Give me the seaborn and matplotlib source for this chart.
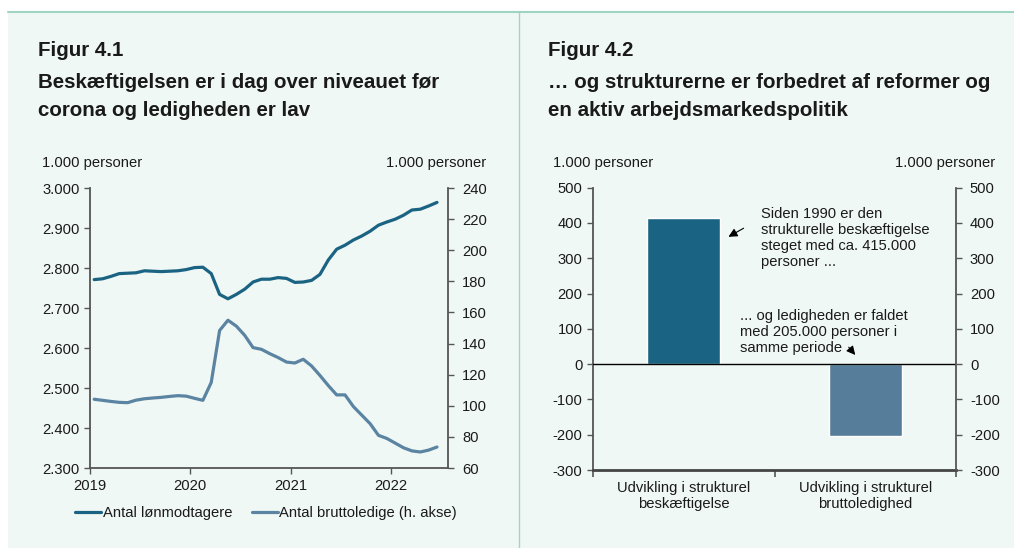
import numpy as np
import pandas as pd
import matplotlib
matplotlib.use("Agg")
import matplotlib.pyplot as plt
import seaborn as sns
from matplotlib.ticker import FuncFormatter, FixedLocator
from matplotlib.patches import Rectangle
from matplotlib.lines import Line2D

# ---------------- data ----------------
months = pd.period_range("2019-01", "2022-06", freq="M")
employment = [2771, 2773, 2779, 2786, 2787, 2788, 2793, 2792, 2791, 2792, 2793, 2796,
              2801, 2802, 2786, 2734, 2723, 2734, 2747, 2765, 2772, 2772, 2776, 2774,
              2764, 2765, 2769, 2784, 2820, 2847, 2857, 2870, 2880, 2892, 2907, 2915,
              2922, 2932, 2945, 2947, 2955, 2964]
unemployment = [104.2, 103.5, 102.8, 102.2, 102.0, 103.6, 104.5, 105.0, 105.4, 106.0, 106.5, 106.2,
                104.8, 103.5, 115.0, 148.4, 155.0, 151.2, 145.3, 137.4, 136.3, 133.5, 131.0, 128.1,
                127.5, 129.9, 125.6, 119.5, 113.0, 107.0, 107.0, 99.5, 94.0, 88.5, 81.0, 79.0,
                76.0, 73.0, 71.0, 70.3, 71.5, 73.5]
year_ticks = [2019, 2020, 2021, 2022]
left_ticks = [2300, 2400, 2500, 2600, 2700, 2800, 2900, 3000]
right_ticks = [60, 80, 100, 120, 140, 160, 180, 200, 220, 240]

bar_categories = ["Udvikling i strukturel\nbeskæftigelse", "Udvikling i strukturel\nbruttoledighed"]
bar_values = [415, -205]
bar_ticks = [-300, -200, -100, 0, 100, 200, 300, 400, 500]

series_labels = ["Antal lønmodtagere", "Antal bruttoledige (h. akse)"]

# ---------------- style ----------------
sns.set_theme(style="white")
plt.rcParams["font.family"] = ["Liberation Sans", "DejaVu Sans"]
plt.rcParams["axes.unicode_minus"] = False

C_EMP = "#1b6382"
C_UNEMP = "#5a84a2"
C_BAR2 = "#567d99"
PANEL = "#f0f8f5"
SPINE = "#555555"
TXT = "#1a1a1a"
FS = 10.6

W, H = 1014, 548
fig = plt.figure(figsize=(W / 100, H / 100), dpi=100, facecolor="white")

def fx(px):
    return px / W

def fy(py):
    return 1 - py / H

# panel background and border lines
fig.patches.append(Rectangle((fx(8), 0), 1 - fx(8), fy(12), transform=fig.transFigure,
                             facecolor=PANEL, edgecolor="none", zorder=-10))
fig.add_artist(Line2D([fx(8), 1], [fy(12), fy(12)], transform=fig.transFigure,
                      color="#9fd4c1", lw=1.5))
fig.add_artist(Line2D([fx(519), fx(519)], [0, fy(12)], transform=fig.transFigure,
                      color="#a8d3c4", lw=1.0))

# ---------------- titles ----------------
title_kw = dict(fontsize=14.8, fontweight="bold", color=TXT, va="center", ha="left")
fig.text(fx(38), fy(50), "Figur 4.1", **title_kw)
fig.text(fx(38), fy(82), "Beskæftigelsen er i dag over niveauet før", **title_kw)
fig.text(fx(38), fy(110), "corona og ledigheden er lav", **title_kw)
fig.text(fx(548), fy(50), "Figur 4.2", **title_kw)
fig.text(fx(548), fy(82), "… og strukturerne er forbedret af reformer og", **title_kw)
fig.text(fx(548), fy(110), "en aktiv arbejdsmarkedspolitik", **title_kw)

unit_kw = dict(fontsize=FS, color=TXT, va="center")
fig.text(fx(42), fy(163), "1.000 personer", ha="left", **unit_kw)
fig.text(fx(486), fy(163), "1.000 personer", ha="right", **unit_kw)
fig.text(fx(553), fy(163), "1.000 personer", ha="left", **unit_kw)
fig.text(fx(995), fy(163), "1.000 personer", ha="right", **unit_kw)

def style_spines(ax, sides):
    for s in ["left", "right", "top", "bottom"]:
        ax.spines[s].set_visible(s in sides)
        ax.spines[s].set_color(SPINE)
        ax.spines[s].set_linewidth(1.3)

# ---------------- left chart ----------------
xdec = np.array([p.year + (p.month - 0.5) / 12 for p in months])
df = pd.DataFrame({"x": xdec, "emp": employment, "unemp": unemployment})

ax1 = fig.add_axes([fx(90), fy(468), fx(448) - fx(90), fy(188) - fy(468)])
ax1.patch.set_alpha(0)
sns.lineplot(data=df, x="x", y="emp", ax=ax1, color=C_EMP, lw=2.3)
ax1.set_xlim(2019.0, 2022.568)
ax1.set_ylim(2300, 3000)
ax1.yaxis.set_major_locator(FixedLocator(left_ticks))
ax1.yaxis.set_major_formatter(FuncFormatter(lambda v, p: f"{v:,.0f}".replace(",", ".")))
ax1.xaxis.set_major_locator(FixedLocator(year_ticks))
ax1.xaxis.set_major_formatter(FuncFormatter(lambda v, p: f"{int(v)}"))
ax1.set_xlabel("")
ax1.set_ylabel("")
style_spines(ax1, ["left", "bottom"])
ax1.tick_params(axis="both", which="major", direction="out", length=4, width=1, color=SPINE,
                labelsize=FS, labelcolor=TXT, left=True, bottom=True)
ax1.tick_params(axis="x", pad=4)

ax2 = ax1.twinx()
ax2.patch.set_alpha(0)
sns.lineplot(data=df, x="x", y="unemp", ax=ax2, color=C_UNEMP, lw=2.3)
ax2.set_ylim(60, 240)
ax2.yaxis.set_major_locator(FixedLocator(right_ticks))
ax2.set_ylabel("")
style_spines(ax2, ["right"])
ax2.tick_params(axis="y", direction="out", length=4, width=1, color=SPINE,
                labelsize=FS, labelcolor=TXT, right=True, pad=6)

handles = [Line2D([], [], color=C_EMP, lw=2.3), Line2D([], [], color=C_UNEMP, lw=2.3)]
fig.legend(handles, series_labels, loc="center", bbox_to_anchor=(fx(266), fy(513)),
           ncol=2, frameon=False, fontsize=FS, handlelength=1.8, handletextpad=0.1,
           columnspacing=1.3, labelcolor=TXT)

# ---------------- right chart ----------------
bdf = pd.DataFrame({"cat": bar_categories, "val": bar_values})
ax3 = fig.add_axes([fx(593), fy(470), fx(956) - fx(593), fy(187.7) - fy(470)])
ax3.patch.set_alpha(0)
sns.barplot(data=bdf, x="cat", y="val", hue="cat", palette=[C_EMP, C_BAR2],
            width=0.4, ax=ax3, legend=False, saturation=1)
ax3.set_xlim(-0.5, 1.5)
ax3.set_ylim(-300, 500)
ax3.yaxis.set_major_locator(FixedLocator(bar_ticks))
ax3.set_xlabel("")
ax3.set_ylabel("")
ax3.axhline(0, color="black", lw=1.0, zorder=3)
style_spines(ax3, ["left", "bottom"])
ax3.spines["bottom"].set_linewidth(2.0)
ax3.spines["bottom"].set_color("#444444")
ax3.tick_params(axis="y", direction="out", length=4, width=1, color=SPINE,
                labelsize=FS, labelcolor=TXT, left=True)
ax3.tick_params(axis="x", which="major", length=0, labelsize=FS, labelcolor=TXT, pad=8)
ax3.set_xticks([-0.5, 0.5, 1.5], minor=True)
ax3.tick_params(axis="x", which="minor", direction="out", length=5, width=1.2, color=SPINE,
                bottom=True)

ax4 = ax3.twinx()
ax4.patch.set_alpha(0)
ax4.set_ylim(-300, 500)
ax4.yaxis.set_major_locator(FixedLocator(bar_ticks))
style_spines(ax4, ["right"])
ax4.tick_params(axis="y", direction="out", length=4, width=1, color=SPINE,
                labelsize=FS, labelcolor=TXT, right=True, pad=6)

ax3.annotate("", xy=(0.233, 357), xytext=(0.343, 389),
             arrowprops=dict(arrowstyle="-|>", color="black", lw=0.8, mutation_scale=13),
             zorder=5)
ax3.text(0.428, 444, "Siden 1990 er den\nstrukturelle beskæftigelse\nsteget med ca. 415.000\npersoner ...",
         ha="left", va="top", fontsize=FS, color=TXT, linespacing=1.17)
ax3.annotate("", xy=(0.955, 20), xytext=(0.899, 54),
             arrowprops=dict(arrowstyle="-|>", color="black", lw=0.8, mutation_scale=13),
             zorder=5)
ax3.text(0.31, 155, "... og ledigheden er faldet\nmed 205.000 personer i\nsamme periode",
         ha="left", va="top", fontsize=FS, color=TXT, linespacing=1.17)

fig.savefig("out.png", dpi=100, facecolor=fig.get_facecolor())
